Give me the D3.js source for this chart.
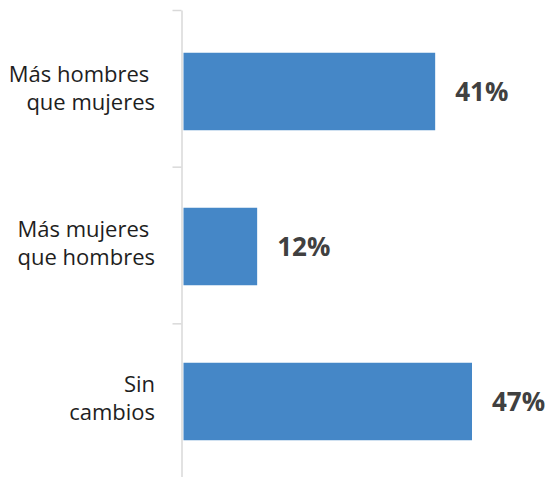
<!DOCTYPE html>
<html>
<head>
<meta charset="utf-8">
<script src="https://cdn.jsdelivr.net/npm/d3@7"></script>
<style>
  html, body { margin: 0; padding: 0; background: #fff; }
  svg { display: block; }
</style>
</head>
<body>
<svg id="chart" width="547" height="477"></svg>
<script>
// Category labels, each split into its wrapped lines
const categories = ["Más hombres que mujeres", "Más mujeres que hombres", "Sin cambios"];
const categoryLines = [["Más hombres ", "que mujeres"], ["Más mujeres ", "que hombres"], ["Sin", "cambios"]];
// Share of responses, percent
const values = [41, 12, 47];
const valueLabels = ["41%", "12%", "47%"];

const svg = d3.select("#chart");
const axisX = 181.5;
const axisTop = 10, axisBottom = 480;

const y = d3.scaleBand()
  .domain(categories)
  .range([14, 479])
  .paddingInner(0.5)
  .paddingOuter(0.25);

const x = d3.scaleLinear()
  .domain([0, 47])
  .range([183.5, 472]);

// Category axis: vertical line with ticks between the bands
const boundary = d3.scaleLinear().domain([0, categories.length]).range([axisTop, axisBottom]);
const axis = d3.axisLeft(boundary)
  .tickValues(d3.range(categories.length + 1))
  .tickFormat("")
  .tickSize(9)
  .tickSizeOuter(0);
const gAxis = svg.append("g")
  .attr("transform", `translate(${axisX},0)`)
  .call(axis);
gAxis.selectAll("path, line").attr("stroke", "#d9d9d9").attr("stroke-width", 1.5);

// Bars
svg.append("g").selectAll("rect")
  .data(categories)
  .join("rect")
  .attr("x", x(0))
  .attr("y", d => y(d))
  .attr("width", (d, i) => x(values[i]) - x(0))
  .attr("height", y.bandwidth())
  .attr("fill", "#4587c7");

// Value labels
svg.append("g").selectAll("text")
  .data(categories)
  .join("text")
  .attr("x", (d, i) => x(values[i]) + 20)
  .attr("y", d => y(d) + y.bandwidth() / 2 + 9)
  .attr("font-family", "'Open Sans', sans-serif")
  .attr("font-weight", "bold")
  .attr("font-size", 26)
  .attr("fill", "#404040")
  .text((d, i) => valueLabels[i]);

// Category labels, right-aligned next to the axis
const catG = svg.append("g")
  .attr("font-family", "'Open Sans', sans-serif")
  .attr("font-size", 22)
  .attr("fill", "#1e1e1e")
  .attr("text-anchor", "end");
categories.forEach((c, i) => {
  const cy = y(c) + y.bandwidth() / 2;
  const t = catG.append("text")
    .attr("x", 155)
    .attr("y", cy - 10)
    .style("white-space", "pre");
  categoryLines[i].forEach((line, j) => {
    t.append("tspan")
      .attr("x", 155)
      .attr("dy", j === 0 ? 0 : 28)
      .text(line);
  });
});
</script>
</body>
</html>
